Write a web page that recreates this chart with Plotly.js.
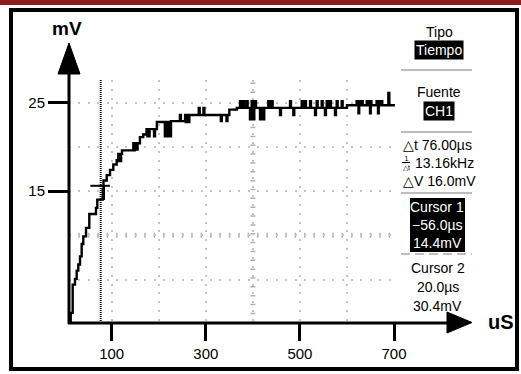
<!DOCTYPE html>
<html>
<head>
<meta charset="utf-8">
<script src="https://cdn.plot.ly/plotly-3.0.1.min.js"></script>
<style>html,body{margin:0;padding:0;background:#fff}#chart{width:521px;height:374px}</style>
</head>
<body>
<div id="chart"></div>
<script>
// ---- data ----
const timeUs = [10,12.9,17.1,22.0,25.6,29.0,32.6,36.2,39.6,45.4,52.4,66.6,69.4,81.0,82.5,89.4,96.4,103.4,110.6,
 114,115.5,117,118.5,120,121.9,
 146,147.5,149,150.5,152,153.5,155,160,167,174,176,177.5,179,180.5,
 190,192,196,213,215,218,220,224,226,245,247,
 256,257.5,259,260.5,262,263.5,265,285,287,295,297,332,334,344,346,350,366,
 372.7,374.7,379.7,381.7,386.9,388.9,393.9,395.9,397.6,399.6,401,403,404.6,406.6,415.2,417.2,422.2,424.2,
 432.8,434.8,440,442,457.7,459.7,479,481,486,488,503.8,505.8,510.8,512.8,521.5,523.5,532.1,534.1,
 535.7,537.7,546.3,548.3,553.3,555.3,557,559,564,566,574.6,576.6,578.2,580.2,588.8,590.8,600,
 620.5,622,623.5,624.5,626,627.5,629,630.5,632,633.5,
 642,643.5,645,646.5,648,649,650.5,652,
 663,664.5,666,667.5,669,670.5,672,673.5,675,688,690,702];
const levelMv = [0.2,1.24,4.44,5.08,6.02,6.70,7.63,9.03,9.89,10.84,12.42,13.10,14.04,15.2,16.2,16.8,17.4,18.0,18.5,
 19.2,18.4,19.2,18.4,19.2,19.6,
 20.4,19.6,20.4,19.7,20.4,19.7,20.4,21.1,21.4,22.0,21.2,22.0,21.2,22.0,
 21.2,22.0,22.8,21.2,22.8,21.2,22.8,21.2,22.9,23.6,22.9,
 23.6,22.8,23.6,22.8,23.6,22.8,23.6,24.4,23.6,24.4,23.6,22.9,23.6,22.9,23.6,24.2,24.4,
 25.15,24.4,25.15,24.4,25.15,24.4,23.1,24.4,25.15,24.4,23.1,24.4,25.15,24.4,23.1,24.4,23.1,24.4,
 25.15,24.4,25.15,24.4,23.6,24.4,25.15,24.4,23.6,24.4,25.15,24.4,25.15,24.4,25.15,24.4,23.6,24.4,
 25.15,24.4,25.15,24.4,23.6,24.4,25.15,24.4,25.15,24.4,23.6,24.4,25.15,24.4,25.15,24.4,24.7,
 25.15,24.7,25.15,23.8,25.15,24.7,25.15,24.7,25.15,24.7,
 25.15,24.7,25.15,24.7,25.15,23.8,25.15,24.7,
 25.15,24.7,23.8,25.15,24.7,25.15,24.7,25.15,24.7,26.1,24.7,24.7];
const xTickVals = [100,300,500,700];
const xGridVals = [200,400,600];
const yTickVals = [15,25];
const yGridVals = [5,10,20];
const cursorLineX = 76.6;           // dotted cursor line (us)
const cursorMark = {x: 83.6, y: 15.6};
const panelTexts = {
  tipo: "Tipo", tipoVal: "Tiempo", fuente: "Fuente", fuenteVal: "CH1",
  dt: "△t 76.00µs", frac: "1<br>△t", invdt: "13.16kHz", dv: "△V 16.0mV",
  c1: ["Cursor 1", "−56.0µs", "14.4mV"], c2: ["Cursor 2", "20.0µs", "30.4mV"]
};

// ---- pixel helpers (layout positions) ----
const L = 69, R = 395, T = 80, B = 323, W = 521, H = 374;
const X = px => (px - L) / (R - L);
const Y = py => (B - py) / (B - T);
const narrow = "Liberation Sans Narrow, Arial Narrow, Liberation Sans, sans-serif";
const sans = "Liberation Sans, Arial, sans-serif";
const PS = 14;

const trace = {
  x: timeUs, y: levelMv, type: 'scatter', mode: 'lines',
  line: {shape: 'hv', color: '#000', width: 2.4}, hoverinfo: 'skip'
};

const shapes = [
  // red band top
  {type:'rect', xref:'paper', yref:'paper', x0:X(0), x1:X(W), y0:Y(0), y1:Y(5), fillcolor:'#8e1b20', line:{width:0}, layer:'below'},
  // black frame
  {type:'rect', xref:'paper', yref:'paper', x0:X(11), x1:X(517), y0:Y(10), y1:Y(369), line:{color:'#000', width:4}},
  // center graticule marks
  {type:'line', xref:'x', yref:'y', x0:9.25, x1:702, y0:10, y1:10, line:{color:'#b0b0b0', width:5, dash:'1.5px,7.9px'}, layer:'below'},
  {type:'line', xref:'x', yref:'y', x0:400, x1:400, y0:0.1, y1:27.55, line:{color:'#b0b0b0', width:5, dash:'1.5px,7.35px'}, layer:'below'},
  // cursor dotted line
  {type:'line', xref:'x', yref:'y', x0:cursorLineX, x1:cursorLineX, y0:0.1, y1:27.55, line:{color:'#000', width:2, dash:'1px,1px'}},
  // crosshair
  {type:'line', xref:'x', yref:'y', x0:cursorMark.x-29, x1:cursorMark.x+12.5, y0:cursorMark.y, y1:cursorMark.y, line:{color:'#000', width:2}},
  {type:'line', xref:'x', yref:'y', x0:cursorMark.x, x1:cursorMark.x, y0:cursorMark.y, y1:cursorMark.y-1.6, line:{color:'#000', width:2}},
  // axis lines
  {type:'line', xref:'paper', yref:'paper', x0:X(69), x1:X(69), y0:Y(324), y1:Y(70), line:{color:'#000', width:3}},
  {type:'line', xref:'paper', yref:'paper', x0:X(68), x1:X(452), y0:Y(323), y1:Y(323), line:{color:'#000', width:3}},
  // arrowheads
  {type:'path', xref:'paper', yref:'paper', path:`M ${X(69)},${Y(43)} L ${X(58)},${Y(74)} L ${X(80)},${Y(74)} Z`, fillcolor:'#000', line:{color:'#000', width:1}},
  {type:'path', xref:'paper', yref:'paper', path:`M ${X(472)},${Y(322.5)} L ${X(447)},${Y(312)} L ${X(447)},${Y(333)} Z`, fillcolor:'#000', line:{color:'#000', width:1}},
  // panel separators
  {type:'line', xref:'paper', yref:'paper', x0:X(401), x1:X(472), y0:Y(70), y1:Y(70), line:{color:'#bdbdbd', width:2}},
  {type:'line', xref:'paper', yref:'paper', x0:X(401), x1:X(472), y0:Y(132), y1:Y(132), line:{color:'#bdbdbd', width:2}},
  {type:'line', xref:'paper', yref:'paper', x0:X(401), x1:X(472), y0:Y(193), y1:Y(193), line:{color:'#bdbdbd', width:2}},
  {type:'line', xref:'paper', yref:'paper', x0:X(401), x1:X(472), y0:Y(254), y1:Y(254), line:{color:'#bdbdbd', width:2, dash:'9px,5px'}},
  // cursor 1 box
  {type:'rect', xref:'paper', yref:'paper', x0:X(410), x1:X(465), y0:Y(198), y1:Y(252), fillcolor:'#000', line:{width:0}},
  // fraction bar
  {type:'line', xref:'paper', yref:'paper', x0:X(402), x1:X(410), y0:Y(162.5), y1:Y(162.5), line:{color:'#000', width:1}}
];

function txt(text, px, py, opts = {}) {
  return Object.assign({
    text, xref:'paper', yref:'paper', x:X(px), y:Y(py), showarrow:false,
    xanchor:'center', yanchor:'middle',
    font:{family:narrow, size:PS, color:'#000'}
  }, opts);
}
const annotations = [
  txt('mV', 67, 29, {font:{family:sans, size:19, color:'#000', weight:'bold'}}),
  txt('uS', 501, 322, {font:{family:sans, size:20, color:'#000', weight:'bold'}}),
  txt(panelTexts.tipo, 439, 32),
  txt(panelTexts.tipoVal, 439, 50, {bgcolor:'#000', borderpad:1, font:{family:narrow, size:PS, color:'#fff'}}),
  txt(panelTexts.fuente, 439, 92),
  txt(panelTexts.fuenteVal, 439, 111, {bgcolor:'#000', borderpad:1, font:{family:narrow, size:PS, color:'#fff'}}),
  txt(panelTexts.dt, 401, 145, {xanchor:'left'}),
  txt(panelTexts.frac, 406, 162.5, {font:{family:narrow, size:7, color:'#000'}}),
  txt(panelTexts.invdt, 413, 163, {xanchor:'left'}),
  txt(panelTexts.dv, 401, 181, {xanchor:'left'}),
  txt(panelTexts.c1[0], 437, 207, {font:{family:narrow, size:PS, color:'#fff'}}),
  txt(panelTexts.c1[1], 437, 225, {font:{family:narrow, size:PS, color:'#fff'}}),
  txt(panelTexts.c1[2], 437, 243, {font:{family:narrow, size:PS, color:'#fff'}}),
  txt(panelTexts.c2[0], 438, 268),
  txt(panelTexts.c2[1], 438, 287),
  txt(panelTexts.c2[2], 438, 306)
];

const layout = {
  width: W, height: H, autosize: false,
  margin: {l: L, r: W - R, t: T, b: H - B, pad: 0},
  paper_bgcolor: '#fff', plot_bgcolor: '#fff',
  showlegend: false,
  xaxis: {
    range: [9.25, 702.1], tickvals: xTickVals, ticktext: xTickVals.map(String),
    ticks: 'outside', ticklen: 17, tickwidth: 3, tickcolor: '#000',
    showgrid: true, gridcolor: '#c4c4c4', gridwidth: 2, griddash: '2px,6.85px',
    minor: {tickvals: xGridVals, showgrid: true, gridcolor: '#c4c4c4', gridwidth: 2, griddash: '2px,6.85px', ticks: ''},
    zeroline: false, showline: false, fixedrange: true,
    tickfont: {family: sans, size: 15, color: '#000'}
  },
  yaxis: {
    range: [0.1, 27.55], tickvals: yTickVals, ticktext: yTickVals.map(String),
    ticks: 'outside', ticklen: 20, tickwidth: 3, tickcolor: '#000',
    showgrid: true, gridcolor: '#c4c4c4', gridwidth: 2, griddash: '2px,7.4px',
    minor: {tickvals: yGridVals, showgrid: true, gridcolor: '#c4c4c4', gridwidth: 2, griddash: '2px,7.4px', ticks: ''},
    zeroline: false, showline: false, fixedrange: true,
    tickfont: {family: sans, size: 15, color: '#000'}
  },
  shapes, annotations
};

Plotly.newPlot('chart', [trace], layout, {staticPlot: true, displayModeBar: false});
</script>
</body>
</html>
